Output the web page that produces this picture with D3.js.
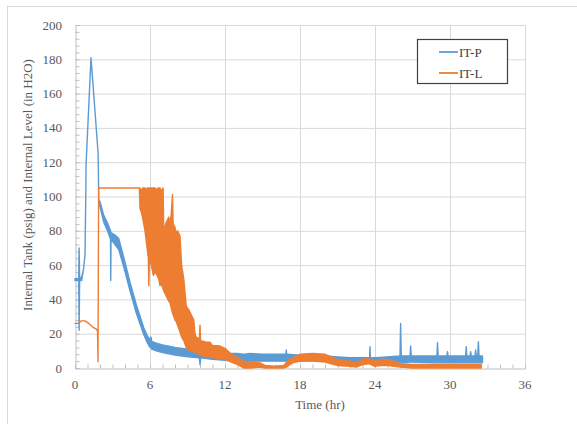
<!DOCTYPE html>
<html>
<head>
<meta charset="utf-8">
<script src="https://cdn.jsdelivr.net/npm/d3@7"></script>
<style>
  body { margin: 0; background: #fff; }
  svg { display: block; }
</style>
</head>
<body>
<svg id="chart" width="577" height="424" font-family="'Liberation Serif', 'Times New Roman', Times, 'DejaVu Serif', serif"></svg>
<script>
// series names / colours
let seriesNames = ['IT-P', 'IT-L']
let seriesColors = ['#5b9bd5', '#ed7d31']

let xTicks = [0, 6, 12, 18, 24, 30, 36]
let yTicks = [0, 20, 40, 60, 80, 100, 120, 140, 160, 180, 200]

// rows are [time (hr), low, high] (noise band envelope)
let itP = [
  [0, 51, 52], [0.3, 51, 52], [0.33, 22, 70], [0.37, 51, 52], [0.53, 51, 53],
  [0.67, 57, 57], [0.8, 66, 66], [0.87, 105, 105], [0.88, 118, 118], [1.28, 181, 181],
  [1.85, 125, 125], [1.9, 98, 98], [2.0, 94, 97], [2.3, 85, 89], [2.6, 80, 84.5],
  [2.84, 75, 80], [2.86, 51, 79], [2.88, 75, 79], [3.2, 72, 77.5], [3.5, 69, 75.5],
  [3.9, 59, 64.5], [4.4, 45, 50], [4.9, 32, 37], [5.5, 19.5, 23.5], [5.8, 14.5, 18.5],
  [6.0, 12, 16.5], [6.08, 12, 18], [6.14, 11, 15.5], [6.5, 10, 14.5], [7.0, 9, 13.5],
  [8.0, 7.5, 12], [9.0, 6.5, 11], [9.95, 6, 10], [10.0, 2, 9.5], [10.05, 6, 9.5],
  [11, 5, 9], [12, 4.5, 8.5], [13, 4, 8.5], [13.45, 4, 8], [13.5, 1, 8], [13.55, 4, 8],
  [14, 4, 8.5], [15, 4, 8], [16, 4, 8], [16.87, 4, 8], [16.9, 4, 10.5], [16.93, 4, 8],
  [17, 4, 8], [18, 4, 7.5], [19, 4.5, 8], [20, 4, 7], [21, 3.5, 6.5], [22, 3, 6],
  [23, 3, 6], [23.57, 3, 6], [23.6, 3, 12.4], [23.63, 3, 6], [24, 3, 6], [25, 3, 6.5],
  [26.0, 3, 7], [26.05, 3, 26], [26.1, 3, 7], [26.8, 3.5, 7], [26.85, 3.5, 12.8],
  [26.9, 3.5, 7], [28.95, 3, 7], [29.0, 3, 14.8], [29.05, 3, 7], [29.75, 3, 7],
  [29.8, 3, 9.5], [29.85, 3, 7], [31.25, 3, 7], [31.3, 3, 12.4], [31.35, 3, 7],
  [31.6, 3, 7], [31.65, 3, 9.5], [31.7, 3, 7], [32.0, 3, 7], [32.05, 3, 10.5],
  [32.1, 3, 7], [32.22, 3, 7], [32.27, 3, 15.3], [32.32, 3, 7], [32.6, 3, 7]
]

let itL = [
  [0, 26, 26], [0.25, 26, 26], [0.5, 27.5, 27.5], [0.8, 27.5, 27.5], [1.1, 26, 26],
  [1.4, 24, 24], [1.73, 22.5, 22.5], [1.8, 21.5, 21.5], [1.84, 3.7, 3.7], [1.89, 105, 105],
  [5.15, 105, 105], [5.2, 93, 105], [5.3, 91, 103], [5.4, 88, 105], [5.5, 84, 105],
  [5.6, 80, 105], [5.7, 74, 104], [5.8, 68, 105], [5.87, 64, 105], [5.9, 48, 105],
  [5.95, 63, 105], [6.1, 60, 105], [6.27, 54, 105], [6.4, 56, 105], [6.5, 55, 104],
  [6.7, 52, 105], [6.8, 48, 105], [6.9, 49, 103], [7.05, 46, 105], [7.1, 45, 80],
  [7.3, 42, 85], [7.5, 39, 88], [7.6, 38, 84], [7.7, 35, 90], [7.8, 32, 101],
  [7.85, 31, 84], [8.0, 28, 82], [8.1, 27, 78], [8.2, 25, 80], [8.4, 21, 77],
  [8.53, 18, 60], [8.7, 16, 52], [8.9, 12, 36], [9.1, 10.5, 34], [9.3, 10, 31],
  [9.5, 9.5, 28], [9.6, 9, 20], [9.7, 8.5, 18], [9.95, 8, 17], [10.0, 7.5, 25],
  [10.05, 7.5, 16], [10.5, 6.5, 15], [10.8, 6.5, 15], [11.0, 6, 13], [11.5, 5.5, 13],
  [12.0, 5, 11.5], [12.5, 3.5, 8], [13.0, 2, 6], [13.5, 0, 4], [14.0, 0, 3.5],
  [14.8, 0.5, 3], [15.2, 0, 1.5], [16.0, 0, 1], [16.7, 0, 1.5], [17.0, 1, 4],
  [17.4, 3, 6], [18.0, 4, 8], [19.0, 4, 8.5], [20.0, 3.5, 8], [20.5, 2.5, 6.5],
  [21.0, 1.5, 5], [22.0, 1, 4], [22.5, 0.5, 3], [23.0, 2, 5], [23.5, 2.5, 5.5],
  [24.0, 1, 4], [24.5, 1.5, 5], [25.0, 1.5, 5], [25.5, 1, 4], [26.0, 0.5, 2.5],
  [27.0, 0, 2], [32.5, 0, 2]
]

let svg = d3.select('#chart')

// outer frame
svg.append('rect')
    .attr('x', 7.5).attr('y', 6.5)
    .attr('width', 580).attr('height', 430)
    .attr('fill', 'none')
    .attr('stroke', '#d9d9d9')

let x = d3.scaleLinear().domain([0, 36]).range([75, 525])
let y = d3.scaleLinear().domain([0, 200]).range([368, 25])

// grid
svg.append('g').selectAll('line')
    .data(yTicks.slice(1))
    .enter().append('line')
    .attr('x1', x(0)).attr('x2', x(36))
    .attr('y1', d => y(d) + 0.5).attr('y2', d => y(d) + 0.5)
    .attr('stroke', '#d9d9d9')

svg.append('g').selectAll('line')
    .data(xTicks.slice(1))
    .enter().append('line')
    .attr('y1', y(0)).attr('y2', y(200))
    .attr('x1', d => x(d) + 0.5).attr('x2', d => x(d) + 0.5)
    .attr('stroke', '#d9d9d9')

// axes with minor ticks pointing inward
let xAxis = d3.axisBottom(x).tickValues(d3.range(0, 37, 1)).tickSize(-4).tickFormat('')
let yAxis = d3.axisLeft(y).tickValues(d3.range(0, 201, 4)).tickSize(-4).tickFormat('')

let gx = svg.append('g').attr('transform', 'translate(0,' + (y(0) + 0.5) + ')').call(xAxis)
let gy = svg.append('g').attr('transform', 'translate(' + (x(0) + 0.5) + ',0)').call(yAxis)
gx.selectAll('path, line').attr('stroke', '#bfbfbf')
gy.selectAll('path, line').attr('stroke', '#bfbfbf')

let font = "'Liberation Serif', 'Times New Roman', Times, serif"

svg.append('g').selectAll('text')
    .data(xTicks)
    .enter().append('text')
    .attr('x', d => x(d)).attr('y', 389)
    .attr('text-anchor', 'middle')
    .attr('font-family', font)
    .attr('font-size', 13)
    .attr('fill', '#595959')
    .text(d => d)

svg.append('g').selectAll('text')
    .data(yTicks)
    .enter().append('text')
    .attr('x', 62).attr('y', d => y(d) + 4.5)
    .attr('text-anchor', 'end')
    .attr('font-family', font)
    .attr('font-size', 13)
    .attr('fill', '#595959')
    .text(d => d)

svg.append('text')
    .attr('x', 320).attr('y', 409)
    .attr('text-anchor', 'middle')
    .attr('font-family', font)
    .attr('font-size', 13)
    .attr('fill', '#595959')
    .text('Time (hr)')

svg.append('text')
    .attr('transform', 'translate(32,185) rotate(-90)')
    .attr('text-anchor', 'middle')
    .attr('font-family', font)
    .attr('font-size', 13)
    .attr('fill', '#595959')
    .text('Internal Tank (psig) and Internal Level (in H2O)')

// series
let band = d3.area()
    .x(d => x(d[0]))
    .y0(d => y(d[1]))
    .y1(d => y(d[2]))

let allSeries = [itP, itL]
allSeries.forEach((rows, i) => {
    svg.append('path')
        .attr('d', band(rows))
        .attr('fill', seriesColors[i])
        .attr('stroke', seriesColors[i])
        .attr('stroke-width', 1.4)
        .attr('stroke-linejoin', 'round')
})

// legend
let legend = svg.append('g')
legend.append('rect')
    .attr('x', 417.5).attr('y', 39.5)
    .attr('width', 90).attr('height', 44)
    .attr('fill', '#fff')
    .attr('stroke', '#404040')
    .attr('stroke-width', 1.2)

seriesNames.forEach((name, i) => {
    let ly = 52 + i * 21
    legend.append('line')
        .attr('x1', 439).attr('x2', 458)
        .attr('y1', ly).attr('y2', ly)
        .attr('stroke', seriesColors[i])
        .attr('stroke-width', 1.8)
    legend.append('text')
        .attr('x', 459).attr('y', ly + 4.5)
        .attr('font-family', font)
        .attr('font-size', 13)
        .attr('fill', '#404040')
        .text(name)
})
</script>
</body>
</html>
